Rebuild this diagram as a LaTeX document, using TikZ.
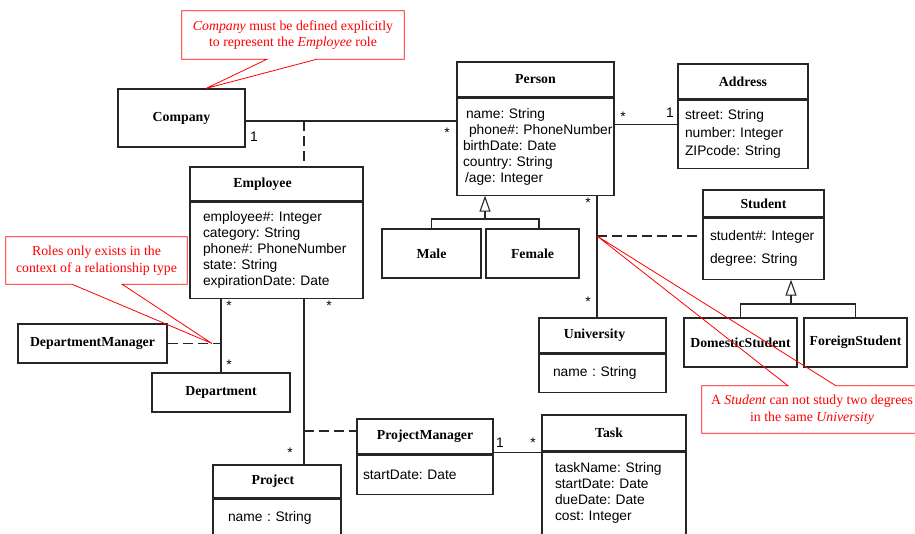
\documentclass[tikz,border=0pt]{standalone}
\usepackage{fontspec}
\setmainfont{Liberation Serif}
\setsansfont{Liberation Sans}
\usepackage{xcolor}
\usepackage{tikz}
\usetikzlibrary{arrows.meta}
\colorlet{umlline}{black!85}

\begin{document}
\begin{tikzpicture}[x=1pt, y=-1pt,
  cls/.style={draw=umlline, line width=1.1pt, inner sep=0pt, font=\fontsize{13.8}{16}\selectfont\bfseries},
  attrs/.style={draw=umlline, line width=1.1pt, anchor=north, inner ysep=0pt, align=left, font=\fontsize{13.8}{16}\selectfont\sffamily},
  mult/.style={inner sep=0pt, font=\fontsize{13.8}{16}\selectfont\sffamily},
  link/.style={draw=umlline, line width=1.1pt},
  role/.style={link, dash pattern=on 10pt off 5pt},
  isa/.style={link, -{Triangle[open, length=16pt, width=11pt]}},
  note/.style={inner sep=0pt, align=center, text=red, font=\fontsize{13.8}{16.7}\selectfont},
  callout/.style={draw=red, line width=0.8pt}
]
\useasboundingbox (0,0) rectangle (915,534);
\clip (0,0) rectangle (915,534);

% Person, Address, Company
\node[cls, minimum width=157pt, minimum height=35pt] (person) at (535.5,79.5) {Person};
\node[attrs, inner xsep=6pt, text width=145pt, minimum height=97pt] (personattr) at (person.south) {\hspace*{3pt}name:~String\\\mbox{\hspace*{6pt}phone\#:~PhoneNumber}\\birthDate:~Date\\country:~String\\\hspace*{2pt}/age:~Integer};
\node[cls, minimum width=130pt, minimum height=35pt] (address) at (743,81.5) {Address};
\node[attrs, inner xsep=7pt, text width=116pt, minimum height=68pt, font=\fontsize{13.8}{18.2}\selectfont\sffamily] (addressattr) at (address.south) {street:~String\\number:~Integer\\ZIPcode:~String};
\node[cls, minimum width=127pt, minimum height=58pt] (company) at (181.5,118) {Company};

% Employee side
\node[cls, minimum width=173pt, minimum height=34pt] (employee) at (276.5,184) {Employee\hspace*{28pt}};
\node[attrs, inner xsep=13pt, text width=147pt, minimum height=96pt] (employeeattr) at (employee.south) {employee\#:~Integer\\category:~String\\\mbox{phone\#:~PhoneNumber}\\state:~String\\expirationDate:~Date};
\node[cls, minimum width=149pt, minimum height=39pt] (deptmanager) at (92.5,343.5) {DepartmentManager};
\node[cls, minimum width=138pt, minimum height=39pt] (department) at (221,392.5) {Department};
\node[cls, minimum width=128pt, minimum height=33pt] (project) at (277,481.5) {Project\hspace*{8pt}};
\node[attrs, inner xsep=15pt, inner ysep=10pt, text width=98pt, text height=12pt, text depth=20pt] (projectattr) at (project.south) {name~:~String};
\node[cls, minimum width=136pt, minimum height=35pt] (pmanager) at (425,436.5) {ProjectManager};
\node[attrs, inner xsep=6pt, text width=124pt, minimum height=39pt] (pmanagerattr) at (pmanager.south) {startDate:~Date};
\node[cls, minimum width=144pt, minimum height=36pt] (task) at (614,433) {Task\hspace*{10pt}};
\node[attrs, inner xsep=13pt, inner ysep=10pt, text width=118pt, text depth=70pt, font=\fontsize{13.8}{16.1}\selectfont\sffamily] (taskattr) at (task.south) {taskName:~String\\startDate:~Date\\dueDate:~Date\\cost:~Integer};

% Person side
\node[cls, minimum width=99pt, minimum height=49pt] (male) at (431.5,253.5) {Male};
\node[cls, minimum width=93pt, minimum height=49pt] (female) at (532.5,253.5) {Female};
\node[cls, minimum width=127pt, minimum height=35pt] (university) at (602.5,335.5) {University\hspace*{16pt}};
\node[attrs, inner xsep=14pt, text width=99pt, minimum height=38pt] (universityattr) at (university.south) {name~:~String};
\node[cls, minimum width=121pt, minimum height=27pt] (student) at (763.5,203.5) {Student};
\node[attrs, inner xsep=7pt, text width=107pt, minimum height=61pt, font=\fontsize{13.8}{23}\selectfont\sffamily] (studentattr) at (student.south) {student\#:~Integer\\degree:~String};
\node[cls, minimum width=113pt, minimum height=49pt] (domestic) at (740.5,342.5) {DomesticStudent};
\node[cls, minimum width=103pt, minimum height=49pt] (foreign) at (855.5,342.5) {ForeignStudent};

% Connections
\coordinate (employment) at (304,121);
\coordinate (studies) at (597,236);
\coordinate (leads) at (304,431);
\coordinate (sexsplit) at (485,219);
\coordinate (studsplit) at (791,304);
\coordinate (manages) at (deptmanager.east -| department.north);

\draw[link] ([yshift=-3pt]company.east) -- ([yshift=-3pt]company.east -| personattr.west);
\draw[role] (employment) -- (employment |- employee.north);
\draw[link] ([yshift=22.5pt]personattr.east) -- ([yshift=22.5pt]personattr.east -| addressattr.west);
\draw[link] (studies |- personattr.south) -- (studies |- university.north);
\draw[role] (studies) -- (studies -| studentattr.west);
\draw[isa] (sexsplit) -- (sexsplit |- personattr.south);
\draw[link] (male.north) |- (sexsplit) -| ([xshift=6.5pt]female.north);
\draw[isa] (studsplit) -- (studsplit |- studentattr.south);
\draw[link] (domestic.north) |- (studsplit) -| (foreign.north);
\draw[link] (department.north) -- (department.north |- employeeattr.south);
\draw[role] (deptmanager.east) -- (manages);
\draw[link] (employment |- employeeattr.south) -- (employment |- project.north);
\draw[role] (leads) -- (leads -| pmanager.west);
\draw[link] ([yshift=2pt]pmanager.south east) -- ([yshift=2pt]pmanager.south east -| task.west);

% Multiplicities
\node[mult] (m1) at (254,137) {1};
\node[mult] (m2) at (447,133) {*};
\node[mult] (m3) at (623,117) {*};
\node[mult] (m4) at (670,113) {1};
\node[mult] (m5) at (588,203) {*};
\node[mult] (m6) at (588,302) {*};
\node[mult] (m7) at (229,306) {*};
\node[mult] (m8) at (229,365) {*};
\node[mult] (m9) at (329,306) {*};
\node[mult] (m10) at (290,453) {*};
\node[mult] (m11) at (500,443) {1};
\node[mult] (m12) at (533,443) {*};

% Notes
\node[note, minimum width=222pt, minimum height=48pt] (companynote) at (293,35) {\textit{Company} must be defined explicitly\\to represent the \textit{Employee} role};
\draw[callout] (companynote.south west) -- (companynote.north west) -- (companynote.north east) -- (companynote.south east) -- ([xshift=24pt]companynote.south) -- ([xshift=24.5pt]company.north) -- ([xshift=-26pt]companynote.south) -- cycle;

\node[note, minimum width=181pt, minimum height=47pt] (rolenote) at (96.5,260.5) {Roles only exists in the\\context of a relationship type};
\draw[callout] (rolenote.south west) -- (rolenote.north west) -- (rolenote.north east) -- (rolenote.south east) -- ([xshift=25.5pt]rolenote.south) -- ([xshift=-9pt]manages) -- ([xshift=-24.5pt]rolenote.south) -- cycle;

\node[note, minimum width=220pt, minimum height=47pt] (degreenote) at (812,409.5) {A \textit{Student} can not study two degrees\\in the same \textit{University}};
\draw[callout] ([xshift=-24pt]degreenote.north) -- (studies) -- ([xshift=24pt]degreenote.north) -- (degreenote.north east) -- (degreenote.south east) -- (degreenote.south west) -- (degreenote.north west) -- cycle;

\end{tikzpicture}
\end{document}
